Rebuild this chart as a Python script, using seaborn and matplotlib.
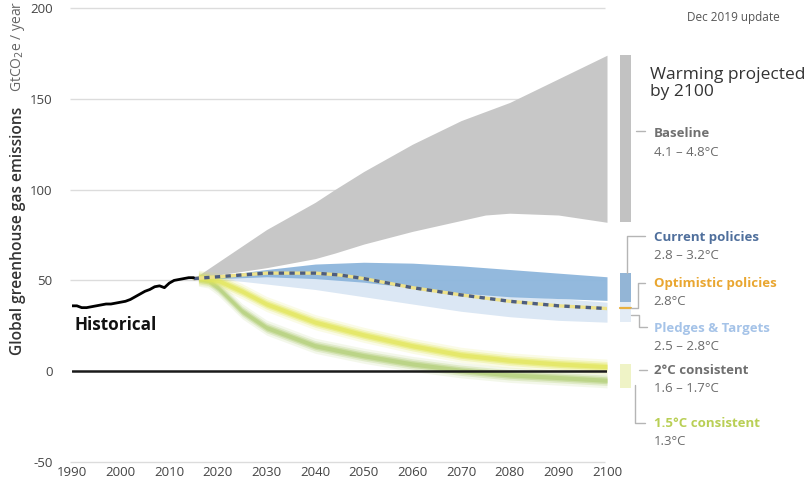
import numpy as np
import pandas as pd
import matplotlib
matplotlib.use("Agg")
import matplotlib.pyplot as plt
import seaborn as sns

# ---------------- data ----------------
hist_years = [1990, 1991, 1992, 1993, 1994, 1995, 1996, 1997, 1998, 1999, 2000, 2001, 2002,
              2003, 2004, 2005, 2006, 2007, 2008, 2009, 2010, 2011, 2012, 2013, 2014, 2015]
hist_vals = [36, 36, 35, 35, 35.5, 36, 36.5, 37, 37, 37.5, 38, 38.5, 39.5,
             41, 42.5, 44, 45, 46.5, 47, 46, 48.5, 50, 50.5, 51, 51.5, 51.5]

base_years = [2015, 2020, 2030, 2040, 2044, 2050, 2060, 2070, 2075, 2080, 2090, 2100]
base_upper = [51, 60, 78, 93, 100, 110, 125, 138, 143, 148, 161, 174]
base_lower = [51, 53, 57, 62, 65, 70, 77, 83, 86, 87, 86, 82]

proj_years = [2015, 2020, 2030, 2040, 2050, 2060, 2070, 2080, 2090, 2100]
cur_upper = [51, 52.5, 56, 59, 60, 59.5, 58, 56, 54, 52]
cur_lower = [51, 51, 52, 51, 49, 46, 43, 41, 40, 39]
pled_upper = [51, 52, 53, 52, 50, 47, 44, 42, 40, 38]
pled_lower = [51, 51, 48, 45, 41, 37, 33, 30, 28, 27]

opt_years = [2015, 2020, 2025, 2030, 2040, 2045, 2050, 2055, 2060, 2070, 2080, 2090, 2100]
opt_vals = [51, 52, 53, 54, 54, 53, 51, 48.5, 46, 42, 38.5, 36, 34.5]

two_years = [2016, 2020, 2025, 2030, 2040, 2050, 2060, 2070, 2080, 2090, 2100]
two_vals = [51.5, 50, 44, 37, 27, 20, 14, 9, 6, 4, 2.5]

one5_years = [2016, 2018, 2020, 2025, 2030, 2040, 2050, 2060, 2070, 2080, 2090, 2100]
one5_vals = [51, 50, 46, 33, 24, 14, 8.5, 4, 0.5, -2, -3.5, -5]

y_ticks = [-50, 0, 50, 100, 150, 200]
x_ticks = list(range(1990, 2101, 10))

# ---------------- style ----------------
sns.set_theme(style="white")
plt.rcParams['font.family'] = ['Open Sans', 'DejaVu Sans']

fig = plt.figure(figsize=(8.05, 4.8), dpi=100)
W, H = 805, 480
ax = fig.add_axes([72 / W, 1 - 462 / H, (607 - 72) / W, (462 - 8) / H])
ax.set_xlim(1990, 2100)
ax.set_ylim(-50, 200)

# grid lines
for yv in [-50, 50, 100, 150, 200]:
    ax.hlines(yv, 1989.6, 2099.6, color="#dcdcdc", lw=1, zorder=0, clip_on=False)

GRAY = "#c7c7c7"
BLUE = "#8db6dc"
LBLUE = "#dbe7f4"
YEL = "#e2e658"
GRN = "#b3cf78"

# baseline band
ax.fill_between(base_years, base_lower, base_upper, color=GRAY, lw=0, zorder=1)
# pledges band
ax.fill_between(proj_years, pled_lower, pled_upper, color=LBLUE, lw=0, zorder=2)
# current policies
ax.fill_between(proj_years, cur_lower, cur_upper, color=BLUE, lw=0, zorder=3, alpha=0.95)

# fuzzy bands for 2C and 1.5C
def fuzzy(years, vals, color, half, z):
    xs = np.array(years, dtype=float)
    vs = np.array(vals, dtype=float)
    for k, a in [(2.2, 0.15), (1.5, 0.28), (1.0, 0.45), (0.6, 0.65)]:
        ax.fill_between(xs, vs - half * k, vs + half * k, color=color, lw=0, alpha=a, zorder=z)

fuzzy(one5_years, one5_vals, GRN, 1.9, 4)
fuzzy(two_years, two_vals, YEL, 1.9, 5)

# optimistic dashed line
opt_df = pd.DataFrame({"year": opt_years, "val": opt_vals})
sns.lineplot(data=opt_df, x="year", y="val", ax=ax, color="#eee28a", lw=2.4, zorder=6)
sns.lineplot(data=opt_df, x="year", y="val", ax=ax, color="#4d5d80", lw=2.4, zorder=7,
             dashes=False, linestyle=(0, (1.6, 1.6)))

# zero line
ax.axhline(0, color="#1a1a1a", lw=1.8, zorder=8)

# historical
hist_df = pd.DataFrame({"year": hist_years, "val": hist_vals})
sns.lineplot(data=hist_df, x="year", y="val", ax=ax, color="black", lw=2.0, zorder=9)

# right bars (warming by 2100)
bx0, bx1 = 2102.6, 2105.0
ax.fill_between([bx0, bx1], [82, 82], [174, 174], color="#c2c2c2", lw=0, clip_on=False)
ax.fill_between([bx0, bx1], [27, 27], [38, 38], color="#e3ecf6", lw=0, clip_on=False)
ax.fill_between([bx0, bx1], [38, 38], [54, 54], color="#93b5d6", lw=0, clip_on=False)
ax.plot([bx0, bx1], [35, 35], color="#e8b040", lw=1.6, clip_on=False)
ax.fill_between([bx0, bx1], [-9, -9], [4, 4], color="#eef2c0", lw=0, clip_on=False, alpha=0.9)

# brackets
bc = "#b5b5b5"
blw = 1.0
ax.plot([2106.0, 2107.9], [132, 132], color=bc, lw=blw, clip_on=False)
ax.plot([2104.1, 2104.1, 2107.9], [54, 74.5, 74.5], color=bc, lw=blw, clip_on=False)
ax.plot([bx1, 2106.4, 2106.4, 2107.9], [35, 35, 48.5, 48.5], color=bc, lw=blw, clip_on=False)
ax.plot([bx1, 2106.6, 2106.6, 2108.2], [31, 31, 24.2, 24.2], color=bc, lw=blw, clip_on=False)
ax.plot([2106.6, 2108.2], [0.8, 0.8], color=bc, lw=blw, clip_on=False)
ax.plot([2105.8, 2105.8, 2107.9], [-7.7, -28.6, -28.6], color=bc, lw=blw, clip_on=False)

# labels at right
lx = 2109.6
ax.text(2108.8, 158.5, "Warming projected\nby 2100", fontsize=12.5, color="#333333",
        va="center", ha="left", linespacing=1.05)
labels = [
    ("Baseline", "4.1 – 4.8°C", 131, "#707070"),
    ("Current policies", "2.8 – 3.2°C", 73.8, "#4f6f9c"),
    ("Optimistic policies", "2.8°C", 48.5, "#e9a630"),
    ("Pledges & Targets", "2.5 – 2.8°C", 23.7, "#a5c3e8"),
    ("2°C consistent", "1.6 – 1.7°C", 0.5, "#6f6f6f"),
    ("1.5°C consistent", "1.3°C", -28.6, "#b9cf55"),
]
for name, val, yv, col in labels:
    ax.text(lx, yv, name, fontsize=9.5, fontweight="bold", color=col, va="center", ha="left")
    ax.text(lx, yv - 10.3, val, fontsize=9.5, color="#6a6a6a", va="center", ha="left")

ax.text(1990.5, 25.5, "Historical", fontsize=12.3, fontweight="bold", color="#111111",
        va="center", ha="left")

fig.text(780 / W, 1 - 17 / H, "Dec 2019 update", fontsize=8.5, color="#555555",
         ha="right", va="center")

# axis formatting
ax.set_xticks(x_ticks)
ax.set_yticks(y_ticks)
ax.set_xticklabels([str(t) for t in x_ticks], fontsize=9.5, color="#444444")
ax.set_yticklabels([str(t) for t in y_ticks], fontsize=9.5, color="#444444")
ax.tick_params(axis="both", length=0, pad=3)
ax.tick_params(axis="y", pad=14)
ax.set_xlabel("")
ax.set_ylabel("")
for s in ax.spines.values():
    s.set_visible(False)
ax.patch.set_alpha(0)

# y label
fig.text(18 / W, 1 - 355 / H, "Global greenhouse gas emissions", rotation=90,
         fontsize=11.2, fontweight="semibold", color="#333333", ha="center", va="bottom")
fig.text(18 / W, 1 - 92 / H, "GtCO$_2$e / year", rotation=90,
         fontsize=10, color="#666666", ha="center", va="bottom")

fig.savefig("out.png", dpi=100)
